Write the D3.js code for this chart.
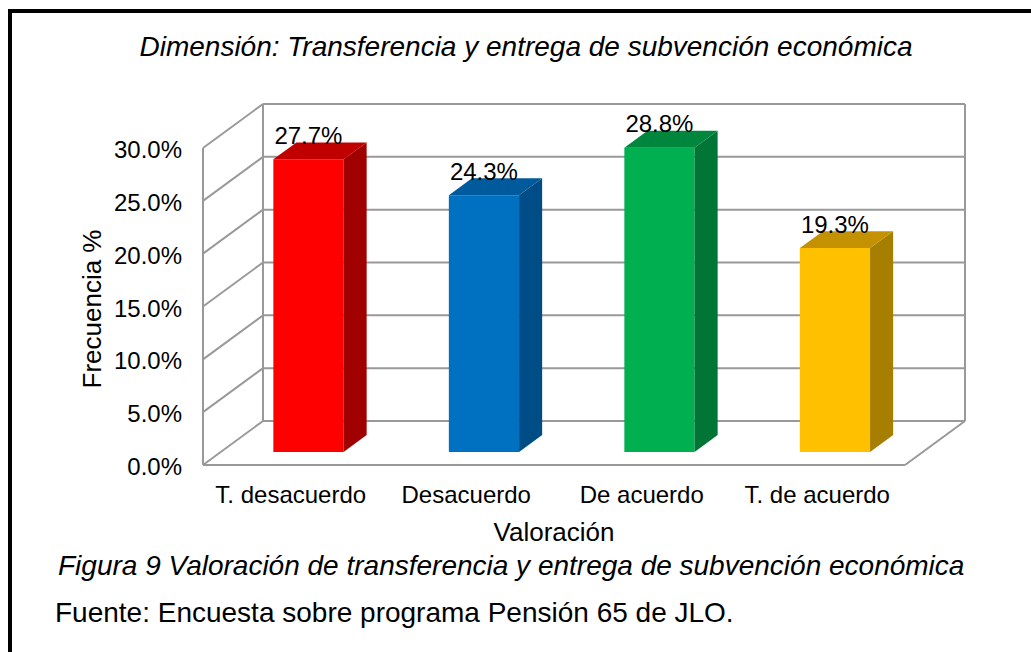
<!DOCTYPE html>
<html lang="es">
<head>
  <meta charset="UTF-8">
  <title>Valoración de transferencia</title>
  <style>
    body { margin: 0; background: #fff; }
    text { font-family: "Liberation Sans", Arial, sans-serif; fill: #000; }
  </style>
</head>
<body>
  <script src="https://cdn.jsdelivr.net/npm/d3@7/dist/d3.min.js"></script>
  <script>
    // datos
    var categorias = ["T. desacuerdo", "Desacuerdo", "De acuerdo", "T. de acuerdo"];
    var frecuencias = [0.277, 0.243, 0.288, 0.193];
    var etiquetas = ["27.7%", "24.3%", "28.8%", "19.3%"];
    var marcas = [0, 0.05, 0.10, 0.15, 0.20, 0.25, 0.30];

    var colorFrente = ["#ff0000", "#0070c0", "#00b050", "#ffc000"];
    var colorLado = ["#a00000", "#004c86", "#007535", "#a67e00"];
    var colorTapa = ["#c00000", "#005a9c", "#00873d", "#c49200"];

    var width = 1031, height = 652;
    var svg = d3.select("body").append("svg")
      .attr("width", width)
      .attr("height", height);

    // marco negro
    svg.append("rect")
      .attr("x", 10).attr("y", 11)
      .attr("width", 1100).attr("height", 1000)
      .attr("fill", "none").attr("stroke", "#000").attr("stroke-width", 4);

    var x = d3.scaleBand().domain(categorias).range([203, 905])
      .paddingInner(0.6).paddingOuter(0.3);
    var y = d3.scaleLinear().domain([0, 0.30]).range([465, 148]);

    var DX = 60, DY = 44;   // profundidad del efecto 3D
    var z0 = 0.295, z1 = 0.68;  // frente y fondo de las barras

    function p(px, v, z) { return [px + z * DX, y(v) - z * DY]; }

    var x0 = x.range()[0], x1 = x.range()[1];
    var grid = svg.append("g")
      .attr("stroke", "#999").attr("stroke-width", 2).attr("fill", "none");

    function linea(a, b) {
      grid.append("line")
        .attr("x1", a[0]).attr("y1", a[1])
        .attr("x2", b[0]).attr("y2", b[1]);
    }

    marcas.forEach(function (t) {
      linea(p(x0, t, 1), p(x1, t, 1));   // pared del fondo
      linea(p(x0, t, 0), p(x0, t, 1));   // pared lateral
    });
    linea(p(x0, 0, 1), p(x0, 0.30, 1));
    linea(p(x1, 0, 1), p(x1, 0.30, 1));
    linea(p(x0, 0, 0), p(x0, 0.30, 0));
    linea(p(x0, 0, 0), p(x1, 0, 0));     // piso
    linea(p(x1, 0, 0), p(x1, 0, 1));

    var bw = x.bandwidth();
    var barras = svg.selectAll("g.barra")
      .data(frecuencias)
      .enter().append("g").attr("class", "barra");

    barras.append("polygon")
      .attr("fill", function (d, i) { return colorFrente[i]; })
      .attr("points", function (d, i) {
        var a = x(categorias[i]), b = a + bw;
        return [p(a, d, z0), p(b, d, z0), p(b, 0, z0), p(a, 0, z0)].join(" ");
      });
    barras.append("polygon")
      .attr("fill", function (d, i) { return colorLado[i]; })
      .attr("points", function (d, i) {
        var b = x(categorias[i]) + bw;
        return [p(b, d, z0), p(b, 0, z0), p(b, 0, z1), p(b, d, z1)].join(" ");
      });
    barras.append("polygon")
      .attr("fill", function (d, i) { return colorTapa[i]; })
      .attr("points", function (d, i) {
        var a = x(categorias[i]), b = a + bw;
        return [p(a, d, z0), p(b, d, z0), p(b, d, z1), p(a, d, z1)].join(" ");
      });
    barras.append("text")
      .attr("x", function (d, i) { return x(categorias[i]) + bw / 2 + z0 * DX; })
      .attr("y", function (d) { return y(d) - z1 * DY + 1.5; })
      .attr("text-anchor", "middle")
      .style("font-size", "24px")
      .text(function (d, i) { return etiquetas[i]; });

    // eje y
    svg.selectAll("text.tick")
      .data(marcas)
      .enter().append("text").attr("class", "tick")
      .attr("x", 182)
      .attr("y", function (d) { return y(d) + 10; })
      .attr("text-anchor", "end")
      .style("font-size", "24px")
      .text(d3.format(".1%"));

    // eje x
    svg.selectAll("text.cat")
      .data(categorias)
      .enter().append("text").attr("class", "cat")
      .attr("x", function (d) { return x(d) + bw / 2; })
      .attr("y", 503)
      .attr("text-anchor", "middle")
      .style("font-size", "24px")
      .text(function (d) { return d; });

    svg.append("text")
      .attr("x", 554).attr("y", 541)
      .attr("text-anchor", "middle")
      .style("font-size", "26px")
      .text("Valoración");

    svg.append("text")
      .attr("transform", "translate(92,309) rotate(-90)")
      .attr("text-anchor", "middle")
      .attr("dominant-baseline", "central")
      .style("font-size", "26px")
      .text("Frecuencia %");

    svg.append("text")
      .attr("x", 526).attr("y", 56)
      .attr("text-anchor", "middle")
      .style("font-size", "28px").style("font-style", "italic")
      .text("Dimensión: Transferencia y entrega de subvención económica");

    svg.append("text")
      .attr("x", 58).attr("y", 575)
      .style("font-size", "28px").style("font-style", "italic")
      .text("Figura 9 Valoración de transferencia y entrega de subvención económica");

    svg.append("text")
      .attr("x", 55).attr("y", 622)
      .style("font-size", "28px")
      .text("Fuente: Encuesta sobre programa Pensión 65 de JLO.");
  </script>
</body>
</html>
